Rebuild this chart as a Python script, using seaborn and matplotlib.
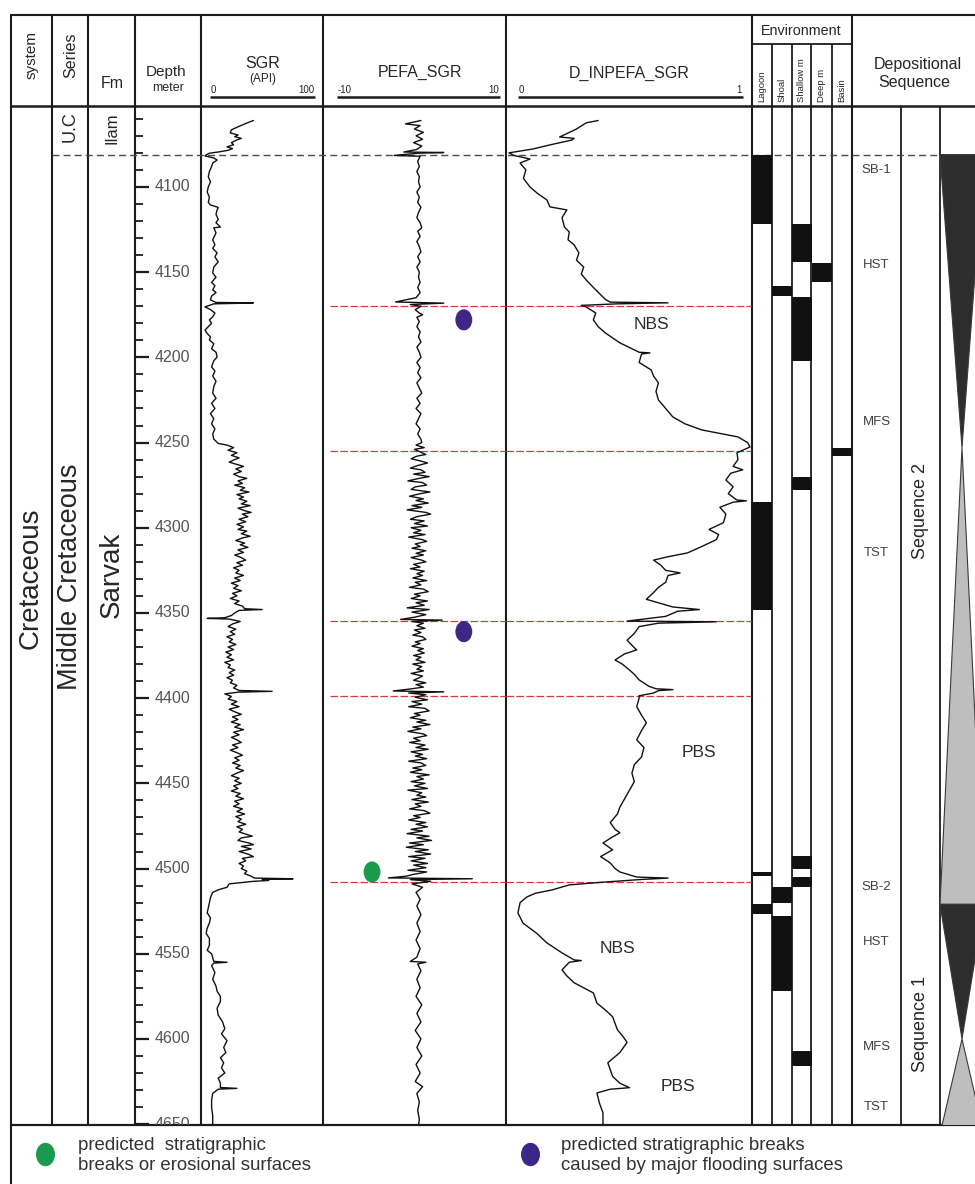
import matplotlib
matplotlib.use("Agg")
import matplotlib.pyplot as plt
from matplotlib.path import Path
from matplotlib.transforms import blended_transform_factory as blend
import numpy as np
import pandas as pd
import seaborn as sns

sns.set_theme(style="white")
plt.rcParams["font.family"] = ["Liberation Sans", "DejaVu Sans"]

# ------------------------------------------------------------------ data
depth_ticks = [4100, 4150, 4200, 4250, 4300, 4350, 4400, 4450, 4500, 4550, 4600, 4650]
minor_depth_ticks = list(range(4060, 4651, 10))
top_depth, base_depth = 4052.5, 4650.5
ilam_base = 4081

# spectral gamma ray (API) : (depth, value)
sgr_log = [
    (4061.0, 44), (4062.5, 38), (4063.6, 34), (4065.0, 29), (4066.5, 24), (4068.3, 23),
    (4069.5, 30), (4070.5, 27), (4071.5, 33), (4072.4, 29), (4074.0, 24), (4075.2, 26),
    (4076.5, 20), (4077.5, 25), (4078.5, 21), (4079.5, 12), (4080.2, 4), (4081.2, 1),
    (4081.8, 0), (4083.0, 8), (4084.2, 11), (4086.0, 7), (4088.0, 6), (4091.0, 4),
    (4094.0, 3), (4097.0, 5), (4100.0, 3), (4103.0, 2), (4106.0, 4), (4109.0, 3),
    (4110.6, 5), (4112.0, 12), (4113.5, 11), (4116.0, 10), (4119.0, 12), (4121.0, 10),
    (4123.5, 14), (4124.0, 8), (4127.0, 10), (4131.0, 7), (4134.0, 9), (4136.0, 7),
    (4138.7, 11), (4141.0, 9), (4144.0, 12), (4147.0, 8), (4150.5, 7), (4153.0, 10),
    (4156.0, 6), (4158.0, 9), (4160.4, 7), (4162.0, 10), (4164.0, 6), (4166.3, 5),
    (4167.8, 10), (4168.0, 44), (4168.3, 30), (4168.6, 8), (4170.4, 0), (4172.0, 5),
    (4174.0, 9), (4176.3, 7), (4178.0, 4), (4180.0, 6), (4182.0, 3), (4184.0, 0),
    (4186.0, 2), (4188.0, 5), (4189.8, 4), (4192.0, 8), (4195.0, 6), (4197.0, 10),
    (4199.8, 11), (4202.0, 8), (4205.6, 6), (4208.0, 9), (4211.0, 7), (4214.0, 10),
    (4217.0, 8), (4221.0, 7), (4224.0, 10), (4227.0, 6), (4230.0, 9), (4233.0, 5),
    (4236.0, 8), (4239.0, 6), (4242.0, 9), (4245.0, 7), (4248.0, 8), (4250.5, 12),
    (4251.5, 20), (4253.0, 26), (4254.5, 21), (4256.0, 29), (4257.5, 24), (4259.0, 31),
    (4260.0, 27), (4261.5, 22), (4263.0, 30), (4264.0, 35), (4265.5, 28), (4267.0, 33),
    (4268.5, 26), (4270.0, 31), (4271.0, 38), (4272.5, 30), (4274.0, 34), (4275.0, 27),
    (4276.5, 36), (4278.0, 32), (4279.0, 40), (4280.5, 29), (4282.0, 35), (4283.0, 31),
    (4284.5, 38), (4286.0, 33), (4287.0, 41), (4288.5, 30), (4290.0, 36), (4291.0, 42),
    (4292.0, 34), (4293.5, 39), (4295.0, 31), (4296.5, 37), (4298.0, 29), (4299.5, 35),
    (4301.0, 30), (4302.0, 38), (4303.5, 33), (4305.0, 41), (4306.0, 34), (4307.5, 28),
    (4309.0, 36), (4310.0, 32), (4311.5, 39), (4313.0, 30), (4314.5, 35), (4316.0, 27),
    (4317.5, 33), (4319.0, 37), (4320.5, 29), (4322.0, 34), (4323.5, 26), (4325.0, 31),
    (4326.5, 28), (4328.0, 35), (4329.5, 27), (4331.0, 32), (4332.5, 24), (4334.0, 30),
    (4335.5, 26), (4337.0, 33), (4338.5, 25), (4340.0, 29), (4341.5, 23), (4343.0, 31),
    (4344.5, 27), (4346.0, 34), (4347.5, 36), (4348.0, 52), (4348.5, 31), (4350.0, 27),
    (4351.5, 24), (4352.8, 18), (4353.2, 2), (4353.6, 22), (4355.0, 32), (4356.5, 25),
    (4358.0, 21), (4359.5, 28), (4361.0, 23), (4362.5, 27), (4364.0, 20), (4365.5, 25),
    (4367.0, 22), (4368.5, 28), (4370.0, 21), (4371.5, 26), (4373.0, 19), (4374.5, 24),
    (4376.0, 20), (4377.5, 26), (4379.0, 18), (4380.5, 23), (4382.0, 21), (4383.5, 27),
    (4385.0, 22), (4386.5, 26), (4388.0, 20), (4389.5, 25), (4391.0, 23), (4392.5, 29),
    (4394.0, 26), (4395.5, 31), (4396.0, 61), (4396.5, 30), (4397.5, 18), (4399.0, 24),
    (4400.5, 21), (4402.0, 29), (4403.5, 24), (4405.0, 31), (4406.5, 22), (4408.0, 27),
    (4409.5, 33), (4411.0, 25), (4412.5, 30), (4414.0, 24), (4415.5, 32), (4417.0, 27),
    (4418.5, 35), (4420.0, 26), (4421.5, 31), (4423.0, 24), (4424.5, 29), (4426.0, 33),
    (4427.5, 25), (4429.0, 30), (4430.5, 23), (4432.0, 29), (4433.5, 34), (4435.0, 27),
    (4436.5, 31), (4438.0, 25), (4439.5, 32), (4441.0, 28), (4442.5, 35), (4444.0, 29),
    (4445.5, 24), (4447.0, 31), (4448.5, 27), (4450.0, 33), (4451.5, 26), (4453.0, 30),
    (4454.5, 24), (4456.0, 32), (4457.5, 28), (4459.0, 35), (4460.5, 27), (4462.0, 31),
    (4463.5, 26), (4465.0, 34), (4466.5, 29), (4468.0, 36), (4469.5, 28), (4471.0, 33),
    (4472.5, 30), (4474.0, 37), (4475.5, 29), (4477.0, 34), (4478.5, 31), (4480.0, 38),
    (4481.0, 43), (4482.0, 33), (4483.5, 30), (4485.0, 40), (4486.0, 44), (4487.0, 33),
    (4488.5, 42), (4490.0, 31), (4491.5, 39), (4493.0, 44), (4494.0, 34), (4495.5, 37),
    (4497.0, 31), (4498.5, 35), (4500.0, 33), (4501.5, 38), (4503.0, 36), (4504.5, 42),
    (4505.6, 45), (4506.0, 80), (4506.4, 52), (4507.0, 58), (4507.5, 44), (4509.0, 22),
    (4511.0, 20), (4512.5, 12), (4514.0, 7), (4517.0, 5), (4520.0, 4), (4523.0, 3),
    (4526.0, 2), (4529.0, 5), (4532.0, 4), (4535.0, 2), (4538.0, 1), (4541.0, 4),
    (4545.0, 4), (4548.0, 2), (4550.0, 6), (4554.5, 8), (4555.0, 20), (4555.5, 8),
    (4557.0, 6), (4561.0, 9), (4565.0, 7), (4569.0, 10), (4572.0, 11), (4575.0, 14),
    (4578.0, 14), (4582.0, 11), (4586.0, 12), (4590.0, 16), (4594.0, 18), (4597.0, 15),
    (4601.0, 20), (4605.0, 17), (4608.0, 19), (4611.0, 14), (4614.0, 17), (4617.0, 15),
    (4620.0, 18), (4623.0, 12), (4626.0, 14), (4628.5, 14), (4629.0, 29), (4629.5, 12),
    (4632.0, 7), (4636.0, 6), (4640.0, 6), (4645.0, 7), (4651.0, 7),
]

# PEFA of SGR : (depth, value)
pefa_log = [
    (4061, 0.3), (4063, -1.6), (4064, 0.2), (4066, -0.5), (4068, 0.6), (4070, -0.3),
    (4072, 0.5), (4074, -0.6), (4076, 0.4), (4078, -0.2), (4079.5, -1.8), (4079.8, 3.1),
    (4080.2, 0.0), (4081.5, -3.0), (4082, 0.2), (4085, -0.1), (4088, 0.1), (4091, -0.2),
    (4094, 0.1), (4097, 0.0), (4100, 0.2), (4103, -0.2), (4106, 0.1), (4109, -0.1),
    (4112, 0.3), (4115, 0.0), (4118, -0.2), (4121, 0.2), (4124, 0.4), (4126, -0.1),
    (4129, 0.2), (4132, -0.2), (4135, 0.1), (4138, 0.3), (4141, -0.1), (4144, 0.2),
    (4147, -0.2), (4150, 0.1), (4153, 0.0), (4156, 0.2), (4159, -0.1), (4162, 0.2),
    (4165, -0.3), (4167.5, -2.8), (4168.2, 3.1), (4169, -1.0), (4170, 0.3), (4172, -0.4),
    (4174, 0.1), (4175, 0.5), (4176.5, -0.2), (4179, 0.1), (4182, -0.2), (4185, 0.2),
    (4188, 0.0), (4191, 0.3), (4194, -0.2), (4197, 0.1), (4200, 0.3), (4203, -0.2),
    (4206, 0.2), (4209, -0.1), (4212, 0.3), (4215, -0.2), (4218, 0.1), (4221, 0.4),
    (4224, -0.2), (4227, 0.2), (4230, -0.3), (4233, 0.3), (4236, 0.0), (4239, -0.3),
    (4242, 0.2), (4245, -0.1), (4248, 0.3), (4250, 0.4), (4251.5, -0.3), (4253, 0.7),
    (4254, -0.5), (4255.5, 0.2), (4257, 0.9), (4258, -0.2), (4259.5, -0.9), (4261, 0.4),
    (4262, 1.1), (4263.5, -0.1), (4265, -1.0), (4266, 0.3), (4267.5, 0.8), (4268.5, -0.6),
    (4270, 1.3), (4271, 0.1), (4272.5, -1.3), (4273.5, 0.5), (4275, 1.0), (4276, -0.4),
    (4277.5, -0.9), (4279, 1.4), (4280, 0.2), (4281.5, -1.1), (4283, 0.6), (4284, -0.3),
    (4285.5, 1.2), (4287, -0.8), (4288, 0.4), (4289.5, -1.4), (4291, 0.9), (4292, 1.5),
    (4293.5, -0.2), (4295, -1.0), (4296, 0.7), (4297.5, -0.5), (4299, 1.1), (4300, -0.9),
    (4301.5, 0.3), (4303, -0.6), (4304, 0.8), (4305.5, -1.2), (4307, 0.5), (4308, 1.0),
    (4309.5, -0.4), (4311, 0.2), (4312, -0.8), (4313.5, 0.9), (4315, -0.3), (4316, 0.6),
    (4317.5, -0.9), (4319, 0.4), (4320, 0.9), (4321.5, -0.6), (4323, 0.2), (4324, -1.0),
    (4325.5, 0.7), (4327, -0.2), (4328, 0.5), (4329.5, -0.7), (4331, 1.0), (4332, -0.4),
    (4333.5, 0.3), (4335, -1.1), (4336, 0.6), (4337.5, 1.2), (4339, -0.5), (4340, 0.2),
    (4341.5, -0.9), (4343, 1.1), (4344, -0.3), (4345.5, 0.7), (4347, -1.4), (4348, 1.3),
    (4349.5, -0.8), (4351, 0.9), (4352.5, -0.5), (4353.8, -2.2), (4354.2, 2.9),
    (4355, -0.8), (4356, 0.6), (4357.5, -0.2), (4359, 0.8), (4360, -0.5), (4361.5, 0.3),
    (4363, -0.7), (4364, 0.5), (4365.5, 0.9), (4367, -0.4), (4368, 0.2), (4369.5, -0.8),
    (4371, 0.6), (4372, -0.1), (4373.5, 0.7), (4375, -0.6), (4376, 0.3), (4377.5, -0.3),
    (4379, 0.8), (4380, -0.7), (4381.5, 0.4), (4383, -0.2), (4384, 0.6), (4385.5, -0.9),
    (4387, 0.5), (4388, 0.1), (4389.5, -0.6), (4391, 0.9), (4392, -0.3), (4393.5, 0.6),
    (4394.5, -0.8), (4395.8, -3.1), (4396.3, 3.1), (4397, -1.2), (4398, 0.9),
    (4399.5, -0.4), (4401, 1.1), (4402, -0.8), (4403.5, 0.4), (4405, -1.2), (4406, 0.8),
    (4407.5, 1.3), (4409, -0.5), (4410, 0.2), (4411.5, -1.0), (4413, 0.9), (4414, -0.2),
    (4415.5, 1.4), (4417, -0.7), (4418, 0.3), (4419.5, -1.3), (4421, 0.6), (4422, 1.0),
    (4423.5, -0.6), (4425, 0.2), (4426, -1.1), (4427.5, 0.8), (4429, -0.3), (4430, 1.2),
    (4431.5, -0.9), (4433, 0.5), (4434, -0.4), (4435.5, 1.0), (4437, -1.2), (4438, 0.3),
    (4439.5, 0.9), (4441, -0.7), (4442, 0.4), (4443.5, -1.0), (4445, 1.3), (4446, -0.2),
    (4447.5, 0.6), (4449, -0.9), (4450, 0.8), (4451.5, -0.5), (4453, 1.1), (4454, -1.3),
    (4455.5, 0.4), (4457, -0.2), (4458, 0.9), (4459.5, -0.8), (4461, 1.2), (4462, -0.4),
    (4463.5, 0.3), (4465, -1.1), (4466, 0.7), (4467.5, 1.4), (4469, -0.6), (4470, 0.2),
    (4471.5, -1.2), (4473, 0.9), (4474, -0.3), (4475.5, 1.1), (4477, -0.9), (4478, 0.5),
    (4479.5, -1.4), (4481, 1.3), (4482, -0.2), (4483.5, 1.6), (4485, -1.1), (4486, 0.6),
    (4487.5, -1.5), (4489, 1.2), (4490, -0.4), (4491.5, 1.5), (4493, -1.2), (4494, 0.8),
    (4495.5, -0.9), (4497, 1.1), (4498, -0.6), (4499.5, 0.9), (4501, -1.3), (4502, 1.0),
    (4503.5, -0.7), (4504.5, -1.5), (4505.5, -3.7), (4506, 6.6), (4506.5, -1.0),
    (4507.5, 1.5), (4509, -0.8), (4511, 0.5), (4514, -0.3), (4518, 0.2), (4522, -0.2),
    (4527, 0.3), (4532, -0.2), (4537, 0.2), (4542, -0.3), (4547, 0.2), (4552, -0.2),
    (4554.5, -1.0), (4555, 0.9), (4556, -0.1), (4560, 0.3), (4565, -0.2), (4570, 0.2),
    (4575, -0.3), (4580, 0.4), (4585, -0.2), (4590, 0.3), (4595, -0.4), (4600, 0.3),
    (4605, -0.2), (4610, 0.4), (4615, -0.3), (4620, 0.2), (4625, -0.4), (4628, 0.5),
    (4632, -0.2), (4637, 0.1), (4642, -0.1), (4647, 0.1), (4651, 0.0),
]

# normalised integrated prediction error filter : (depth, value)
dinpefa_log = [
    (4061.0, 0.37), (4062.4, 0.32), (4066.0, 0.28), (4070.7, 0.21), (4071.5, 0.27),
    (4072.5, 0.26), (4075.0, 0.18), (4077.7, 0.10), (4080.0, 0.0), (4081.5, 0.02),
    (4083.6, 0.087), (4086.0, 0.046), (4090.0, 0.07), (4095.0, 0.06), (4100.0, 0.087),
    (4104.0, 0.12), (4107.6, 0.157), (4111.7, 0.17), (4113.5, 0.24), (4118.0, 0.22),
    (4123.5, 0.23), (4126.4, 0.25), (4131.0, 0.245), (4134.0, 0.27), (4138.7, 0.29),
    (4143.0, 0.28), (4147.0, 0.31), (4151.0, 0.30), (4154.6, 0.32), (4160.4, 0.36),
    (4166.0, 0.40), (4167.6, 0.42), (4168.0, 0.66), (4168.6, 0.45), (4169.5, 0.30),
    (4170.4, 0.32), (4174.0, 0.36), (4178.0, 0.35), (4182.0, 0.37), (4185.7, 0.40),
    (4191.5, 0.46), (4197.0, 0.54), (4197.4, 0.585), (4198.0, 0.55), (4203.0, 0.54),
    (4207.4, 0.59), (4211.0, 0.60), (4215.0, 0.62), (4220.0, 0.61), (4225.0, 0.62),
    (4230.0, 0.65), (4235.0, 0.68), (4239.0, 0.73), (4242.6, 0.80), (4246.7, 0.95),
    (4250.0, 0.99), (4252.6, 1.0), (4256.0, 0.946), (4260.0, 0.95), (4264.0, 0.93),
    (4266.0, 0.97), (4268.0, 0.92), (4272.0, 0.90), (4276.0, 0.93), (4280.0, 0.91),
    (4283.7, 0.945), (4284.2, 0.985), (4285.0, 0.93), (4288.0, 0.875), (4292.0, 0.90),
    (4297.0, 0.89), (4301.0, 0.83), (4304.0, 0.87), (4307.0, 0.86), (4311.0, 0.80),
    (4314.8, 0.74), (4317.0, 0.66), (4319.0, 0.60), (4322.0, 0.63), (4325.0, 0.65),
    (4326.5, 0.71), (4328.0, 0.66), (4332.0, 0.65), (4335.0, 0.62), (4338.0, 0.60),
    (4342.0, 0.57), (4346.5, 0.68), (4348.0, 0.79), (4349.0, 0.70), (4352.0, 0.65),
    (4354.8, 0.49), (4355.2, 0.86), (4356.0, 0.62), (4358.0, 0.54), (4362.0, 0.52),
    (4366.0, 0.49), (4369.0, 0.51), (4371.7, 0.53), (4374.0, 0.48), (4377.6, 0.44),
    (4380.0, 0.47), (4383.5, 0.50), (4386.0, 0.52), (4389.3, 0.54), (4393.0, 0.58),
    (4394.5, 0.61), (4395.0, 0.68), (4395.6, 0.62), (4397.0, 0.60), (4398.6, 0.54),
    (4400.0, 0.54), (4405.0, 0.53), (4410.0, 0.55), (4414.5, 0.57), (4419.0, 0.55),
    (4424.5, 0.53), (4429.0, 0.56), (4434.5, 0.55), (4439.0, 0.52), (4444.0, 0.51),
    (4449.0, 0.52), (4454.0, 0.50), (4459.0, 0.48), (4464.0, 0.46), (4468.0, 0.45),
    (4473.0, 0.42), (4477.0, 0.44), (4479.0, 0.46), (4481.4, 0.43), (4485.0, 0.39),
    (4489.0, 0.43), (4493.0, 0.38), (4496.7, 0.42), (4500.0, 0.44), (4502.0, 0.46),
    (4505.0, 0.53), (4505.6, 0.66), (4506.4, 0.55), (4508.0, 0.39), (4509.6, 0.25),
    (4512.5, 0.18), (4514.5, 0.11), (4516.6, 0.075), (4520.0, 0.046), (4526.0, 0.037),
    (4532.0, 0.058), (4538.0, 0.115), (4543.6, 0.157), (4549.5, 0.22), (4553.6, 0.27),
    (4554.0, 0.30), (4555.0, 0.25), (4559.5, 0.22), (4563.0, 0.24), (4567.0, 0.27),
    (4573.0, 0.35), (4579.0, 0.365), (4583.0, 0.40), (4587.0, 0.43), (4594.7, 0.45),
    (4598.0, 0.47), (4602.0, 0.49), (4608.0, 0.46), (4614.0, 0.41), (4618.0, 0.42),
    (4622.0, 0.43), (4626.0, 0.46), (4628.6, 0.50), (4629.5, 0.42), (4631.7, 0.365),
    (4637.6, 0.375), (4643.4, 0.39), (4651.0, 0.39),
]

break_depths = [4170, 4255, 4355, 4399, 4508]
flooding_break_pefa = [5.56, 5.56]
flooding_break_depth = [4178, 4361]
erosional_break_pefa = [-5.7]
erosional_break_depth = [4502]

environments = ["Lagoon", "Shoal", "Shallow m", "Deep m", "Basin"]
lagoon_intervals = [(4081, 4122), (4285, 4348), (4502, 4504.5), (4521, 4526.5)]
shoal_intervals = [(4158, 4164), (4511, 4520), (4528, 4572)]
shallow_intervals = [(4122, 4144), (4164.5, 4202), (4270, 4278), (4492.6, 4500.2),
                     (4505, 4511), (4607, 4616)]
deep_intervals = [(4144.5, 4156)]
basin_intervals = [(4253, 4258)]

tract_labels = ["SB-1", "HST", "MFS", "TST", "SB-2", "HST", "MFS", "TST"]
tract_depths = [4090, 4146, 4238, 4315, 4511, 4543, 4605, 4640]
sequence_names = ["Sequence 2", "Sequence 1"]
sequence_label_depths = [4290, 4591]

wedge_tops = [4081, 4253, 4521, 4600]
wedge_bases = [4253, 4521, 4600, 4656]
wedge_wide_end = ["top", "base", "top", "base"]
wedge_shades = ["#2d2d2d", "#bebebe", "#2d2d2d", "#bebebe"]

curve_notes = ["NBS", "PBS", "NBS", "PBS"]
curve_note_value = [0.59, 0.79, 0.45, 0.70]
curve_note_depth = [4181, 4432, 4547, 4628]

# ------------------------------------------------------------------ layout
W, H = 975, 1184
fig = plt.figure(figsize=(W / 100, H / 100), dpi=100)
fig.patch.set_facecolor("white")

ax_bg = fig.add_axes([0, 0, 1, 1])
ax_bg.set_xlim(0, W)
ax_bg.set_ylim(H, 0)
ax_bg.set_axis_off()

TOP, HDR, BOT = 15, 106, 1125
INK = "#1c1c1c"


def track(x0, x1):
    ax = fig.add_axes([x0 / W, 1 - BOT / H, (x1 - x0) / W, (BOT - HDR) / H])
    ax.set_facecolor("none")
    ax.set_ylim(base_depth, top_depth)
    for s in ax.spines.values():
        s.set_visible(False)
    ax.set_xticks([])
    ax.set_yticks([])
    return ax


ax_depth = track(135, 201)
ax_sgr = track(201, 323)
ax_pefa = track(323, 506)
ax_dinp = track(506, 752)
ax_env = track(752, 852)
ax_tract = track(852, 901)
ax_seq = track(901, 940)
ax_wedge = track(940, 984)

ax_depth.set_xlim(0, 1)
ax_sgr.set_xlim(-4 / 1.1, 118 / 1.1)
ax_pefa.set_xlim(-10 - 14 / 8.15, 10 + 6 / 8.15)
ax_dinp.set_xlim(-3 / 241, 1 + 2 / 241)
ax_env.set_xlim(0, 5)
ax_tract.set_xlim(0, 1)
ax_seq.set_xlim(0, 1)
ax_wedge.set_xlim(0, 1)


def vline(x, y0, y1, lw=1.5):
    ax_bg.plot([x, x], [y0, y1], color=INK, lw=lw, solid_capstyle="butt", zorder=5)


def hline(y, x0, x1, lw=1.5):
    ax_bg.plot([x0, x1], [y, y], color=INK, lw=lw, solid_capstyle="butt", zorder=5)


# frame
hline(TOP, 10, W)
hline(HDR, 10, W, lw=1.8)
hline(BOT, 10, W, lw=1.6)
vline(11, TOP, H)
for x in [52, 88, 135, 201, 323, 506, 752, 852]:
    vline(x, TOP, BOT)
hline(44, 752, 852, lw=1.3)
for x in [772, 792, 811, 832]:
    vline(x, 44, BOT, lw=1.3)
for x in [901, 940]:
    vline(x, HDR, BOT, lw=1.3)

# header texts
hdr = dict(color="#262626", ha="center", va="center")
ax_bg.text(32, 55, "system", rotation=90, fontsize=11, **hdr)
ax_bg.text(71, 55, "Series", rotation=90, fontsize=11.5, **hdr)
ax_bg.text(112, 83, "Fm", fontsize=11.5, **hdr)
ax_bg.text(166, 72, "Depth", fontsize=11, **hdr)
ax_bg.text(168, 88, "meter", fontsize=9, **hdr)
ax_bg.text(263, 63, "SGR", fontsize=11.5, **hdr)
ax_bg.text(263, 79, "(API)", fontsize=8.5, **hdr)
ax_bg.text(420, 72, "PEFA_SGR", fontsize=11.5, **hdr)
ax_bg.text(629, 73, "D_INPEFA_SGR", fontsize=11.5, **hdr)
ax_bg.text(801, 31, "Environment", fontsize=10.3, **hdr)
ax_bg.text(918, 65, "Depositional", fontsize=11.5, **hdr)
ax_bg.text(914, 83, "Sequence", fontsize=11.5, **hdr)
for i, name in enumerate(environments):
    ax_bg.text(762 + i * 19.9, 102, name, rotation=90, fontsize=6.8, color="#262626",
               ha="center", va="bottom")

# header scale bars
small = dict(fontsize=7, color="#262626", va="center")
for (x0, x1, lo, hi) in [(210, 315, "0", "100"), (337, 500, "-10", "10"), (518, 743, "0", "1")]:
    hline(97, x0, x1, lw=1.8)
    ax_bg.text(x0 + 1, 90, lo, ha="left", **small)
    ax_bg.text(x1 - 1, 90, hi, ha="right", **small)

# lithostratigraphy
ax_bg.text(31, 578, "Cretaceous", rotation=90, fontsize=20, **hdr)
ax_bg.text(70, 127, "U.C", rotation=90, fontsize=13, **hdr)
ax_bg.text(70, 577, "Middle Cretaceous", rotation=90, fontsize=19.5, **hdr)
ax_bg.text(112, 128, "Ilam", rotation=90, fontsize=12, **hdr)
ax_bg.text(112, 575, "Sarvak", rotation=90, fontsize=20, **hdr)

# formation boundary
ax_bg.plot([52, 940], [ilam_base, ilam_base], color="#4a4a4a", lw=1.0,
           dashes=(5, 3), transform=blend(ax_bg.transData, ax_depth.transData), zorder=6)

# depth scale
ax_depth.set_yticks(depth_ticks)
ax_depth.set_yticks(minor_depth_ticks, minor=True)
ax_depth.tick_params(axis="y", which="major", direction="in", length=10, width=1.6,
                     color=INK, left=True, labelleft=False)
ax_depth.tick_params(axis="y", which="minor", direction="in", length=6, width=1.3,
                     color=INK, left=True, labelleft=False)
lab_tr = blend(ax_depth.transAxes, ax_depth.transData)
for d in depth_ticks:
    ax_depth.text(0.29, d, str(d), transform=lab_tr, ha="left", va="center",
                  fontsize=11.5, color="#555555", clip_on=True)

# log curves
sgr = pd.DataFrame(sgr_log, columns=["depth", "value"])
pefa = pd.DataFrame(pefa_log, columns=["depth", "value"])
dinp = pd.DataFrame(dinpefa_log, columns=["depth", "value"])
for ax, df in [(ax_sgr, sgr), (ax_pefa, pefa), (ax_dinp, dinp)]:
    sns.lineplot(data=df, x="value", y="depth", sort=False, estimator=None,
                 color="#111111", lw=1.0, ax=ax)
    ax.set_xlabel("")
    ax.set_ylabel("")
    ax.set_ylim(base_depth, top_depth)

for d in break_depths:
    ax_pefa.axhline(d, xmin=0.04, xmax=1, color="#d23c3c", lw=0.9, dashes=(6, 2), zorder=1)
    ax_dinp.axhline(d, xmin=0, xmax=0.995, color="#d23c3c", lw=0.9, dashes=(6, 2), zorder=1)

circle = Path.unit_circle()
oval = Path(circle.vertices * np.array([0.8, 1.0]), circle.codes)
sns.scatterplot(x=flooding_break_pefa, y=flooding_break_depth, marker=oval, s=230,
                color="#3b2787", edgecolor="none", ax=ax_pefa, zorder=4)
sns.scatterplot(x=erosional_break_pefa, y=erosional_break_depth, marker=oval, s=230,
                color="#1a9a4c", edgecolor="none", ax=ax_pefa, zorder=4)
ax_pefa.set_ylim(base_depth, top_depth)

for txt, v, d in zip(curve_notes, curve_note_value, curve_note_depth):
    ax_dinp.text(v, d, txt, fontsize=12.5, color="#2a2a2a", ha="center", va="center")

# environment columns
for i, intervals in enumerate([lagoon_intervals, shoal_intervals, shallow_intervals,
                               deep_intervals, basin_intervals]):
    tops = np.array([a for a, b in intervals])
    bases = np.array([b for a, b in intervals])
    ax_env.barh((tops + bases) / 2, width=1, height=bases - tops, left=i,
                color="#111111", edgecolor="none")

# systems tracts and sequences
for txt, d in zip(tract_labels, tract_depths):
    ax_tract.text(0.5, d, txt, fontsize=9.5, color="#404040", ha="center", va="center")
for txt, d in zip(sequence_names, sequence_label_depths):
    ax_seq.text(0.5, d, txt, fontsize=13, color="#262626", ha="center", va="center",
                rotation=90)

for top, base, wide, shade in zip(wedge_tops, wedge_bases, wedge_wide_end, wedge_shades):
    if wide == "top":
        xs, ys = [0, 1, 0.5], [top, top, base]
    else:
        xs, ys = [0.5, 0, 1], [top, base, base]
    ax_wedge.fill(xs, ys, facecolor=shade, edgecolor="#3a3a3a", lw=0.8)

# legend strip
ax_bg.scatter([45], [1154], marker=oval, s=250, color="#1a9a4c", zorder=6)
ax_bg.scatter([530], [1154], marker=oval, s=250, color="#3b2787", zorder=6)
leg = dict(fontsize=13.4, color="#333333", ha="left", va="center")
ax_bg.text(78, 1145, "predicted  stratigraphic", **leg)
ax_bg.text(78, 1166, "breaks or erosional surfaces", **leg)
ax_bg.text(561, 1145, "predicted stratigraphic breaks", **leg)
ax_bg.text(561, 1166, "caused by major flooding surfaces", **leg)

fig.savefig("out.png", dpi=100, facecolor="white")
